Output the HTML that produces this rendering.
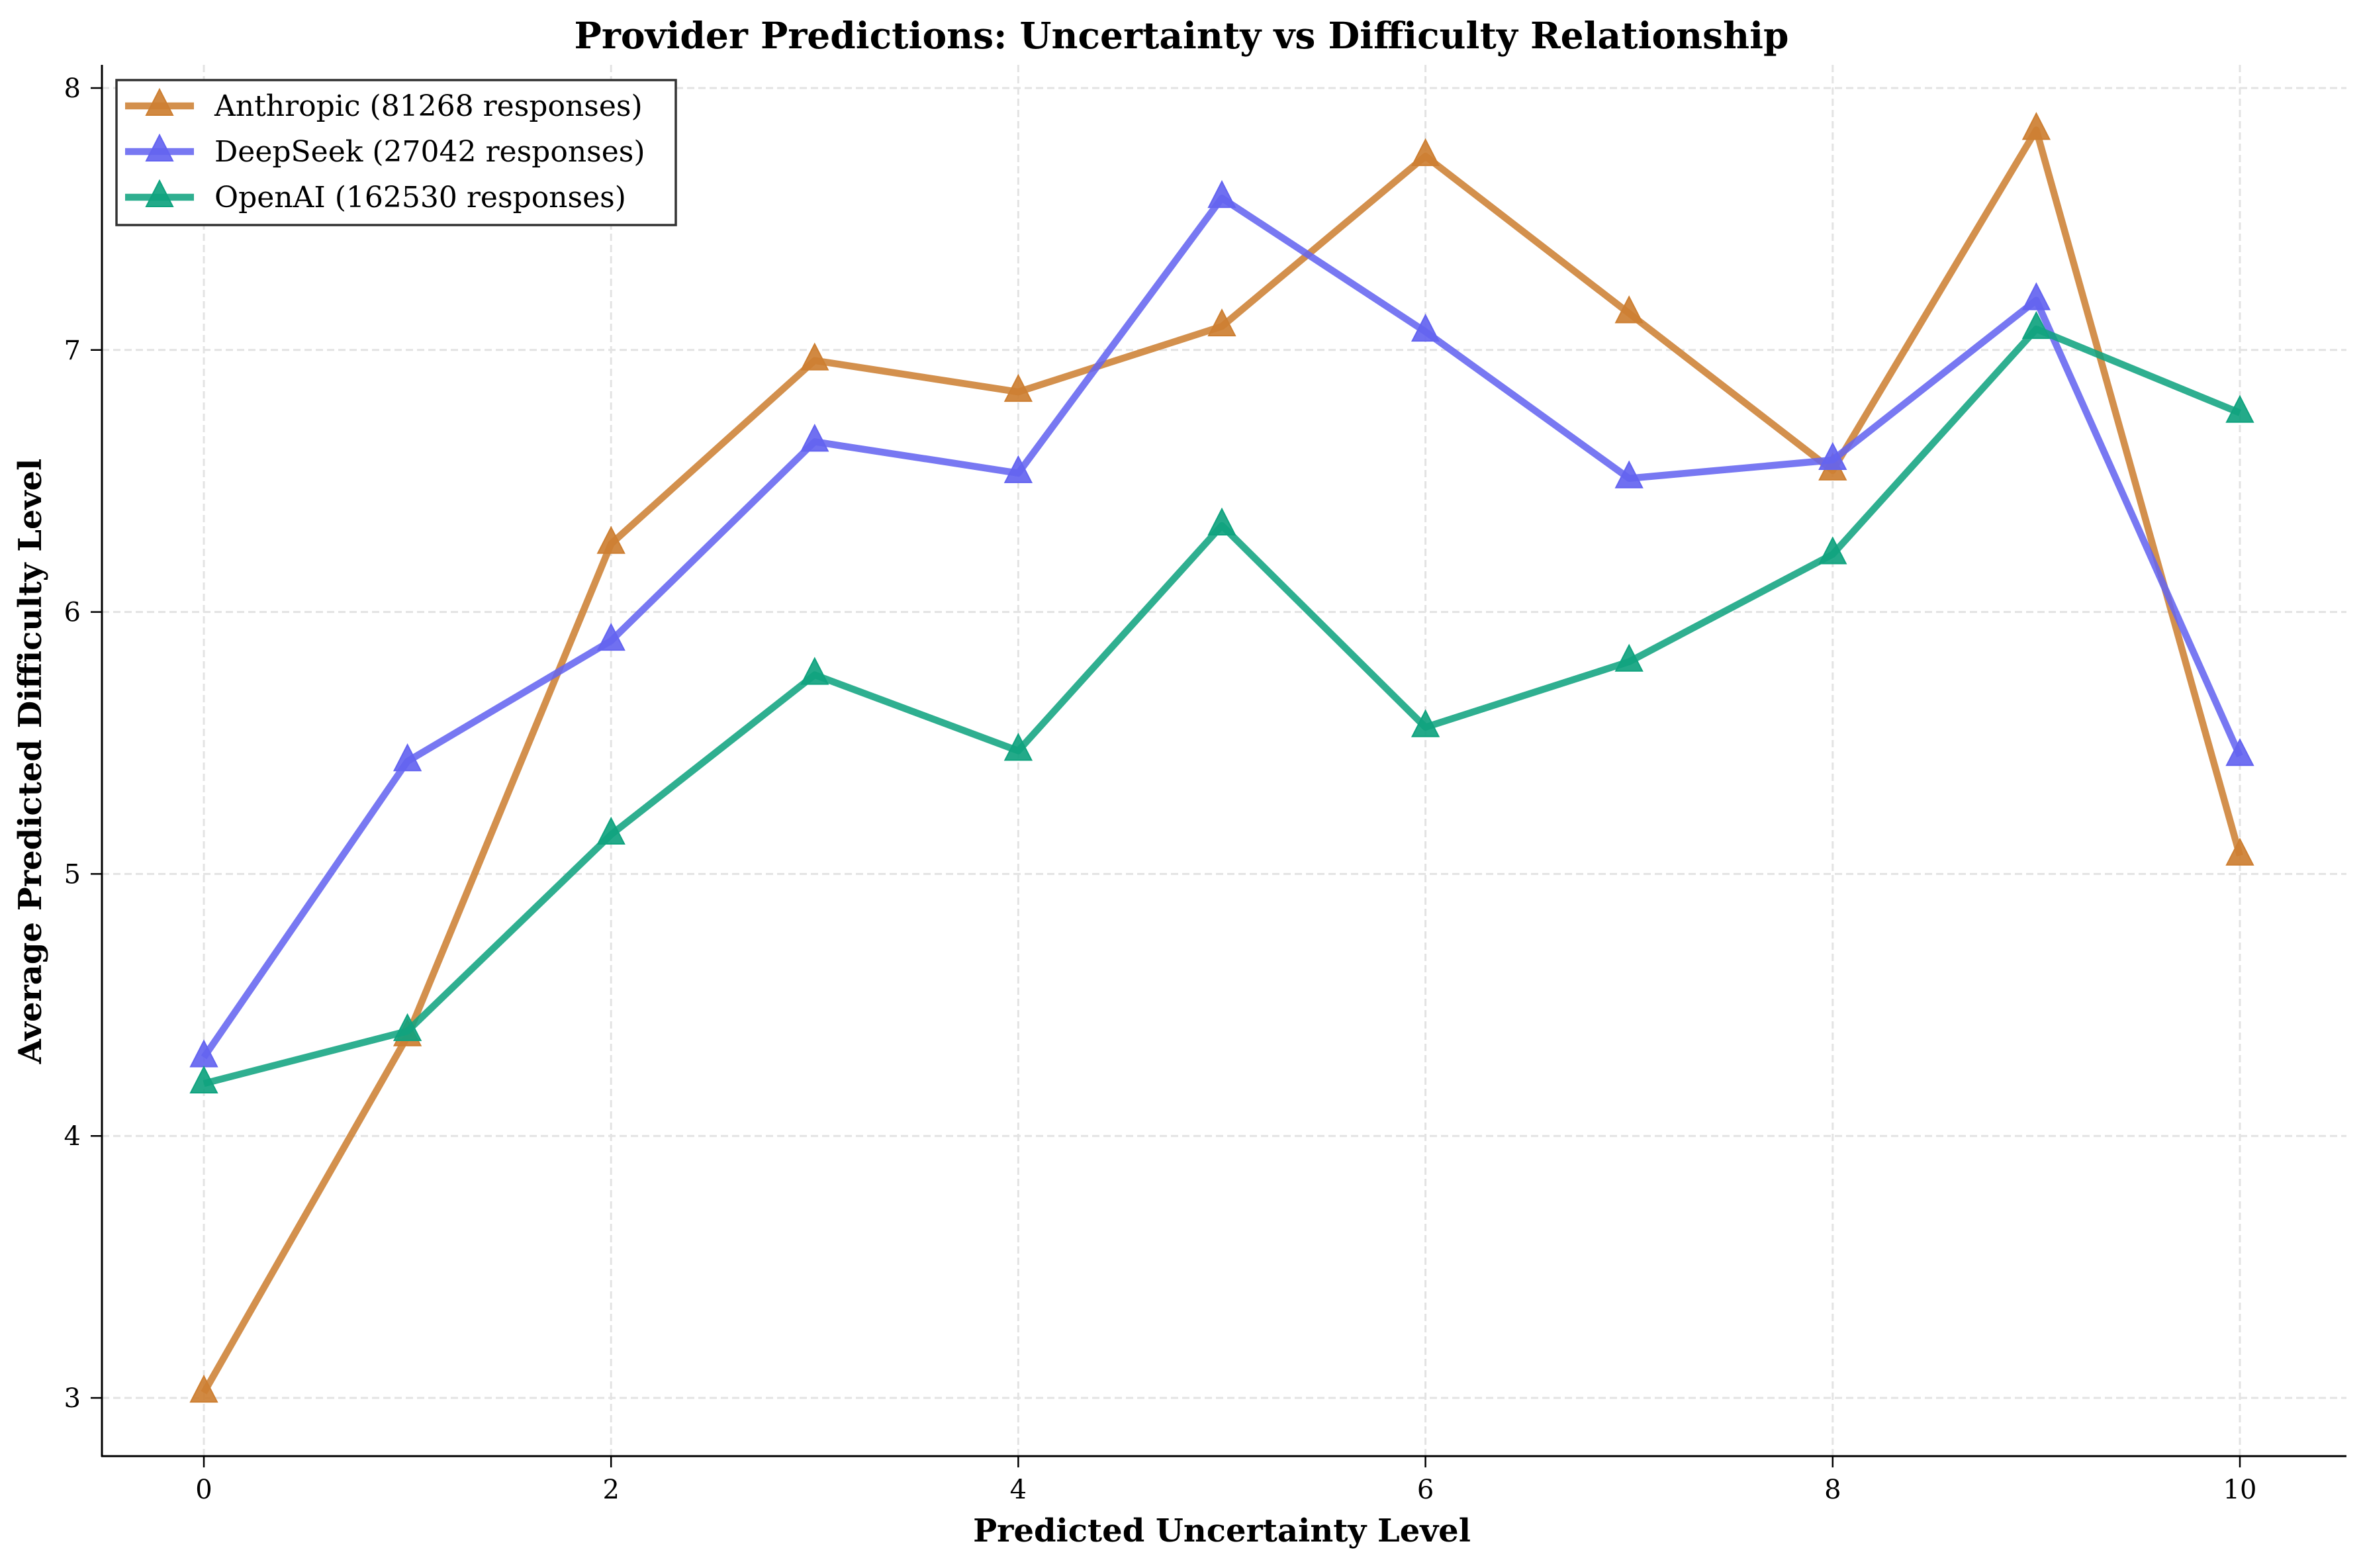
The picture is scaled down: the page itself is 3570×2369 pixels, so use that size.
<!DOCTYPE html>
<html><head><meta charset="utf-8"><style>
html,body{margin:0;padding:0;background:#fff}
svg{display:block;font-family:"DejaVu Serif","Liberation Serif",serif}
</style></head><body>
<svg id="chart" width="3570" height="2369" viewBox="0 0 3570 2369" xmlns="http://www.w3.org/2000/svg">
<rect width="3570" height="2369" fill="#fff"/>
<g id="grid"></g>
<g id="series"></g>
<g id="axes"></g>
<text x="1785" y="73" text-anchor="middle" font-size="55" font-weight="bold">Provider Predictions: Uncertainty vs Difficulty Relationship</text>
<text x="1846" y="2329" text-anchor="middle" font-size="48" font-weight="bold">Predicted Uncertainty Level</text>
<text transform="translate(62,1150) rotate(-90)" text-anchor="middle" font-size="48" font-weight="bold">Average Predicted Difficulty Level</text>
<g id="legend"></g>
</svg>
<script>
const xCats = [0,1,2,3,4,5,6,7,8,9,10];
const anthropic = [3.02,4.38,6.26,6.96,6.84,7.09,7.74,7.14,6.54,7.84,5.07];
const deepseek = [4.30,5.43,5.89,6.65,6.53,7.58,7.07,6.51,6.58,7.19,5.45];
const openai = [4.20,4.40,5.15,5.76,5.47,6.33,5.56,5.81,6.22,7.08,6.76];
const seriesNames = ["Anthropic (81268 responses)","DeepSeek (27042 responses)","OpenAI (162530 responses)"];
const xTicks = [0,2,4,6,8,10];
const yTicks = [3,4,5,6,7,8];

const NS="http://www.w3.org/2000/svg";
const L=154,R=3545,T=98,B=2200;
const X=v=>308+v*307.6;
const Y=v=>2112-(v-3)*395.8;
function mk(tag,attrs,parent){const e=document.createElementNS(NS,tag);for(const k in attrs)e.setAttribute(k,attrs[k]);parent.appendChild(e);return e;}
const grid=document.getElementById('grid'),axes=document.getElementById('axes'),ser=document.getElementById('series'),leg=document.getElementById('legend');
xTicks.forEach(t=>{
  const g=mk('line',{x1:X(t),x2:X(t),y1:T,y2:B,stroke:'#e3e3e3','stroke-width':3,'stroke-dasharray':'11 6'},grid);
  
  
  const tk=mk('line',{x1:X(t),x2:X(t),y1:B,y2:B+17,stroke:'#000','stroke-width':2.5},axes);
  
  
  const lb=mk('text',{x:X(t),y:2264,'text-anchor':'middle','font-size':40},axes);
  lb.textContent=t;
  
  
});
yTicks.forEach(t=>{
  const g=mk('line',{x1:L,x2:R,y1:Y(t),y2:Y(t),stroke:'#e3e3e3','stroke-width':3,'stroke-dasharray':'11 6'},grid);
  
  
  const tk=mk('line',{x1:L-17,x2:L,y1:Y(t),y2:Y(t),stroke:'#000','stroke-width':2.5},axes);
  
  
  const lb=mk('text',{x:122,y:Y(t)+14,'text-anchor':'end','font-size':40},axes);
  lb.textContent=t;
  
  
});
const sp1=mk('line',{x1:L,x2:L,y1:T,y2:B+1,stroke:'#000','stroke-width':3},axes);


const sp2=mk('line',{x1:L-1,x2:R,y1:B,y2:B,stroke:'#000','stroke-width':3},axes);



const all=[anthropic,deepseek,openai];
const lineCol=['#cd7f32','#6464f0','#10a37f'];
const keys=['anthropic','deepseek','openai'];
function tri(cx,cy,p,col,name){
  const t=mk('polygon',{points:`${cx},${cy-25} ${cx-20},${cy+14} ${cx+20},${cy+14}`,fill:col,'fill-opacity':0.92,stroke:col,'stroke-width':2},p);
  
  
}
all.forEach((vals,i)=>{
  const g=mk('g',{},ser);
  
  
  const pl=mk('polyline',{points:vals.map((v,j)=>X(xCats[j])+','+Y(v)).join(' '),fill:'none',stroke:lineCol[i],'stroke-opacity':0.87,'stroke-width':10.5,'stroke-linejoin':'round'},g);
  
  
  vals.forEach((v,j)=>tri(X(xCats[j]),Y(v),g,lineCol[i],'point-'+keys[i]));
});
// legend
const box=mk('rect',{x:176,y:121,width:845,height:219,fill:'#fff',stroke:'#333','stroke-width':3.5},leg);


seriesNames.forEach((n,i)=>{
  const cy=160+i*69;
  const g=mk('g',{},leg);
  
  
  mk('line',{x1:189,x2:293,y1:cy,y2:cy,stroke:lineCol[i],'stroke-opacity':0.87,'stroke-width':10.5},g);
  tri(241,cy,g,lineCol[i],'legend-marker');
  const t=mk('text',{x:324,y:cy+15,'font-size':44},g);
  t.textContent=n;
  
  
});
</script>
</body></html>
